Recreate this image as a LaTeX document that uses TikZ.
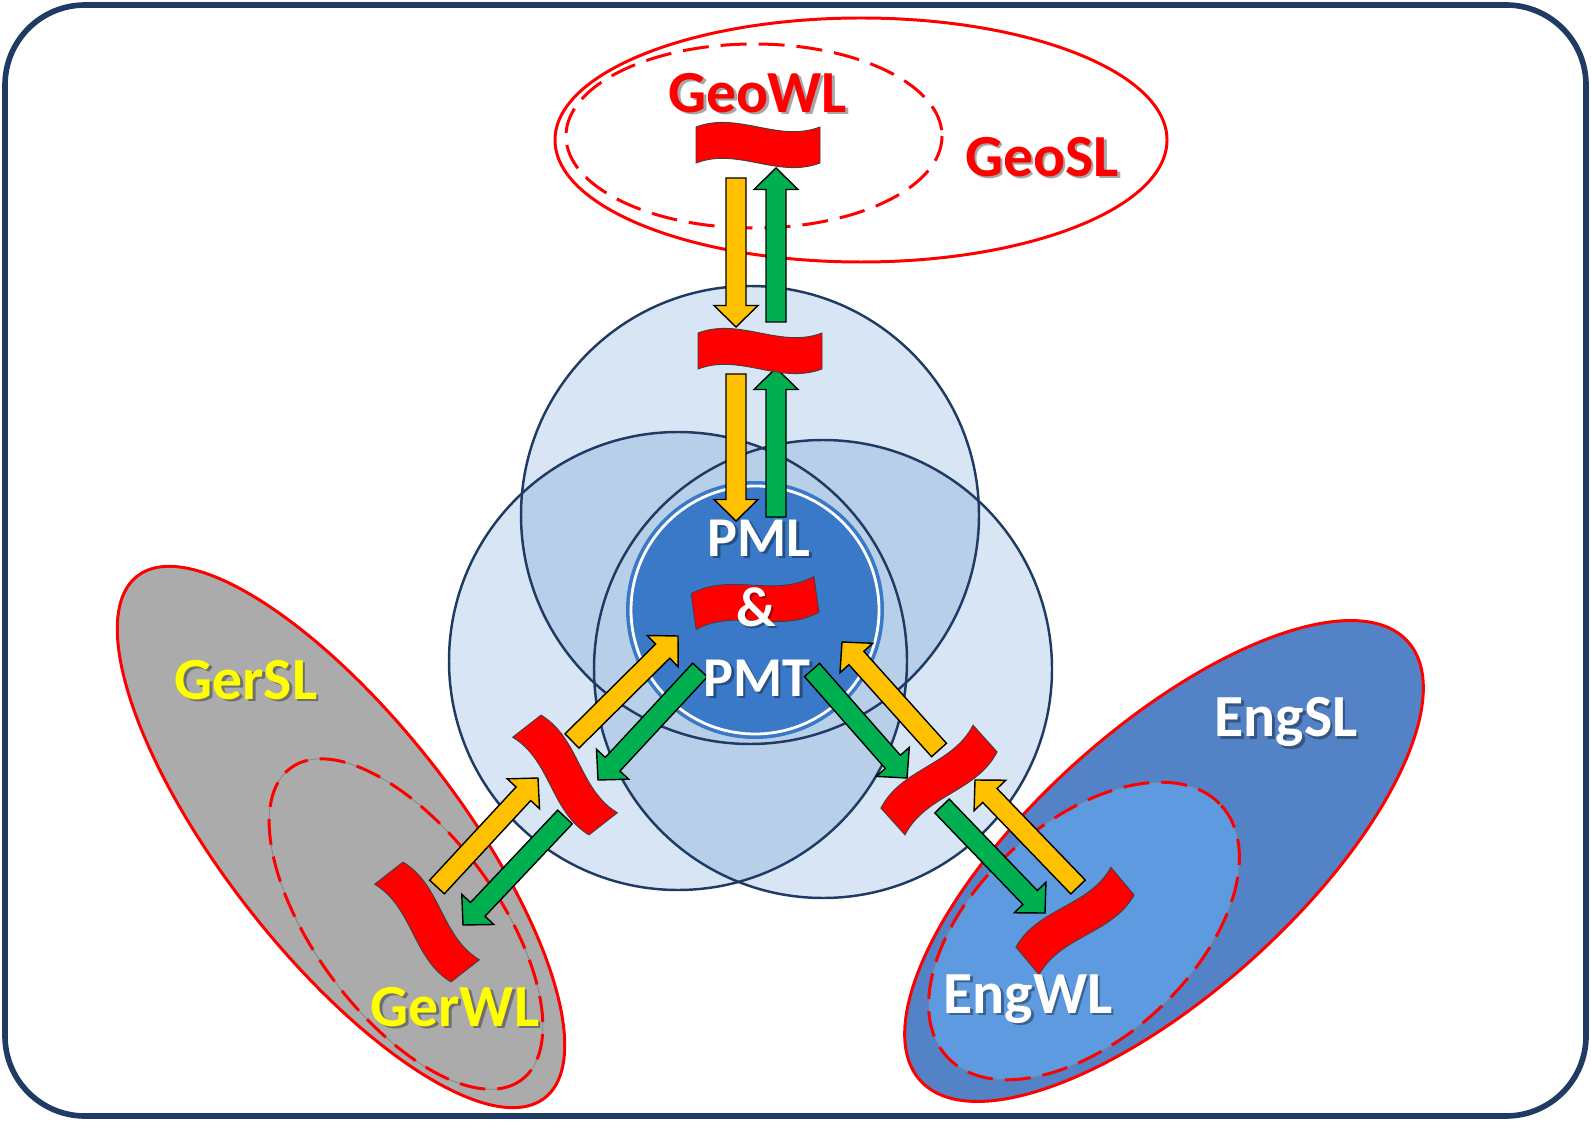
\documentclass[tikz,border=0pt]{standalone}
\usepackage{fontspec}
\setmainfont{Carlito}
\usetikzlibrary{calc}
\definecolor{navy}{HTML}{1F3B63}
\definecolor{lightbl}{HTML}{D8E5F4}
\definecolor{midbl}{HTML}{B8CFEA}
\definecolor{pmlbl}{HTML}{3A78C8}
\definecolor{gerfill}{HTML}{ABABAB}
\definecolor{engfill}{HTML}{5383C6}
\definecolor{engwfill}{HTML}{5D9AE0}
\definecolor{arryellow}{HTML}{FFC000}
\definecolor{arrgreen}{HTML}{00B050}
\definecolor{txtyellow}{HTML}{FFFF00}
\definecolor{flagred}{HTML}{FF0000}
\tikzset{
  border/.style={draw=navy, line width=3.2pt, rounded corners=1.6cm},
  circ/.style={draw=navy, line width=1.4pt},
  redsolid/.style={draw=flagred, line width=1.7pt},
  reddash/.style={draw=flagred, line width=1.7pt, dash pattern=on 0.52cm off 0.24cm},
  arrowstyle/.style={draw=black, line width=0.8pt, line join=miter},
  flagstyle/.style={draw=black!75, line width=0.5pt, fill=flagred},
  lbl/.style={font=\fontsize{34}{34}\selectfont\bfseries, inner sep=0pt},
  slbl/.style={font=\fontsize{32}{32}\selectfont\bfseries, inner sep=0pt},
  flag/.pic={
    \path[flagstyle] (-62,-18) .. controls (-20,-34) and (20,-2) .. (62,-18)
      -- (62,18) .. controls (20,34) and (-20,2) .. (-62,18) -- cycle;
  }
}
\newcommand\blockarrow[3]{%
  \coordinate (#1-#2-h) at ($(#2)!0.43cm!(#1)$);
  \draw[arrowstyle, fill=#3]
    ($(#1)!0.2cm!90:(#2)$) --
    ($(#1-#2-h)!0.2cm!90:(#2)$) --
    ($(#1-#2-h)!0.44cm!90:(#2)$) --
    (#2) --
    ($(#1-#2-h)!0.44cm!-90:(#2)$) --
    ($(#1-#2-h)!0.2cm!-90:(#2)$) --
    ($(#1)!0.2cm!-90:(#2)$) -- cycle;
}
\newcommand\shtext[5]{% name, position, colour, style, text
  \node[#4, text=black, opacity=0.35] (#1-sh) at ($(#2)+(2.5,2.5)$) {#5};
  \node[#4, text=#3] (#1) at (#2) {#5};
}
\begin{document}
\begin{tikzpicture}[x=0.02cm,y=-0.02cm]
\useasboundingbox (0,0) rectangle (1591,1121);
\draw[border] (5,5) rectangle (1586,1116);

% GeoSL
\draw[redsolid] (861,140) ellipse (306 and 122);
\draw[reddash] (754,136) ellipse (188 and 92);

% three circles
\coordinate (cT) at (750,515);
\coordinate (cL) at (678,661);
\coordinate (cR) at (823,669);
\fill[lightbl] (cT) circle[radius=229];
\fill[lightbl] (cL) circle[radius=229];
\fill[lightbl] (cR) circle[radius=229];
\begin{scope}
  \clip (cT) circle[radius=229];
  \fill[midbl] (cL) circle[radius=229];
  \fill[midbl] (cR) circle[radius=229];
\end{scope}
\begin{scope}
  \clip (cL) circle[radius=229];
  \fill[midbl] (cR) circle[radius=229];
\end{scope}
\draw[circ] (cT) circle[radius=229];
\draw[circ] (cL) circle[radius=229];
\draw[circ] (cR) circle[radius=229];

% PML disk
\coordinate (cP) at (755,610);
\fill[pmlbl] (cP) circle[radius=129];
\draw[white, line width=1.6pt] (cP) circle[radius=124];

% GerSL
\draw[redsolid, fill=gerfill, rotate around={-52:(341,837)}] (341,837) ellipse (331 and 117);
\draw[gray, line width=0.4pt, rotate around={-53.5:(406,924)}] (406,924) ellipse (194 and 91.5);
\draw[reddash, rotate around={-53.5:(406,924)}] (406,924) ellipse (194 and 91.5);

% EngSL
\draw[redsolid, fill=engfill, rotate around={42:(1164,861)}] (1164,861) ellipse (328 and 132);
\draw[gray, line width=0.4pt, fill=engwfill, rotate around={42.5:(1084,931)}] (1084,931) ellipse (186 and 108);
\draw[reddash, rotate around={42.5:(1084,931)}] (1084,931) ellipse (186 and 108);

% arrow end points
\coordinate (a1s) at (736,178);  \coordinate (a1e) at (736,327);
\coordinate (a2s) at (776,322);  \coordinate (a2e) at (776,168);
\coordinate (a3s) at (736,374);  \coordinate (a3e) at (736,521);
\coordinate (a4s) at (776,517);  \coordinate (a4e) at (776,368);
\coordinate (a5s) at (572,741);  \coordinate (a5e) at (678,636);
\coordinate (a6s) at (700,670);  \coordinate (a6e) at (598,780);
\coordinate (a7s) at (437,887);  \coordinate (a7e) at (538,778);
\coordinate (a8s) at (565,817);  \coordinate (a8e) at (463,925);
\coordinate (a9s) at (812,670);  \coordinate (a9e) at (907,778);
\coordinate (a10s) at (939,750); \coordinate (a10e) at (842,642);
\coordinate (a11s) at (942,806); \coordinate (a11e) at (1045,913);
\coordinate (a12s) at (1078,887); \coordinate (a12e) at (975,780);

\blockarrow{a1s}{a1e}{arryellow}
\blockarrow{a2s}{a2e}{arrgreen}
\blockarrow{a3s}{a3e}{arryellow}
\blockarrow{a4s}{a4e}{arrgreen}
\blockarrow{a5s}{a5e}{arryellow}
\blockarrow{a6s}{a6e}{arrgreen}
\blockarrow{a7s}{a7e}{arryellow}
\blockarrow{a8s}{a8e}{arrgreen}
\blockarrow{a9s}{a9e}{arrgreen}
\blockarrow{a10s}{a10e}{arryellow}
\blockarrow{a11s}{a11e}{arrgreen}
\blockarrow{a12s}{a12e}{arryellow}

% flags
\pic at (758,145) {flag};
\pic at (760,351) {flag};
\pic[rotate=8] at (755,603) {flag};
\pic[rotate=-52] at (565,775) {flag};
\pic[rotate=-52] at (427,922) {flag};
\pic[rotate=42] at (939,780) {flag};
\pic[rotate=40] at (1075,921) {flag};

% labels
\shtext{geowl}{758,93}{flagred}{lbl}{GeoWL}
\shtext{geosl}{1042,157}{flagred}{lbl}{GeoSL}
\shtext{gersl}{246,680}{txtyellow}{lbl}{GerSL}
\shtext{gerwl}{455,1007}{txtyellow}{lbl}{GerWL}
\shtext{engsl}{1286,722}{white}{lbl}{EngSL}
\shtext{engwl}{1028,999}{white}{lbl}{EngWL}
\shtext{pml}{759,538}{white}{slbl}{PML}
\shtext{amp}{756,607}{white}{slbl}{\&}
\shtext{pmt}{757,678}{white}{slbl}{PMT}
\end{tikzpicture}
\end{document}
